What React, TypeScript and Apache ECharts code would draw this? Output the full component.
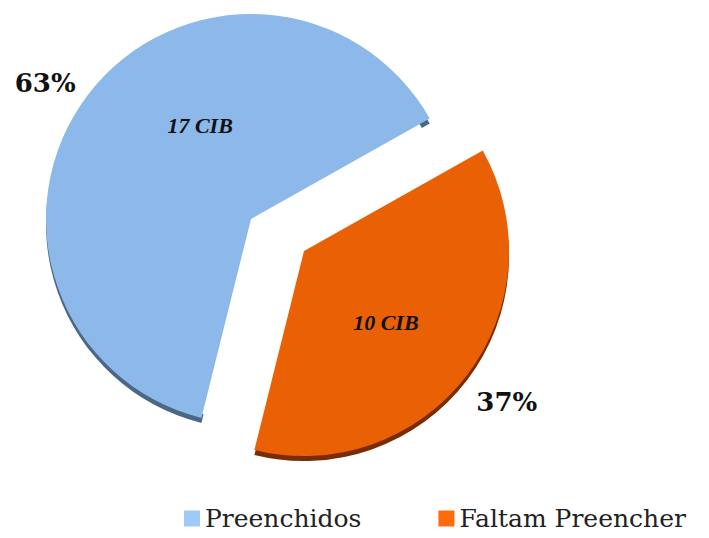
import React, { useEffect, useRef } from "react";
import * as echarts from "echarts";

const categories = ["Preenchidos", "Faltam Preencher"];
const values = [17, 10];
const unitLabel = "CIB";

const sliceColors = ["#8cb9e9", "#e96104"];
const sideColors = ["#4b6786", "#7a2c00"];
const legendColors = ["#9ecbf6", "#ff6a0a"];

// per-slice explosion centres (each slice drawn by its own pie series)
const sliceCenters: [number, number][] = [
  [251, 219],
  [304, 251],
];
const RADIUS = 205;
const DEPTH = 5;
const SIDE_BAND = 9;
const START_ANGLE = 256;

// label nudges relative to the library's default placement
const innerShift = [
  [33, -30],
  [-2, 8],
];
const outerShift = [
  [-1, -12],
  [-2, 17],
];

export default function App() {
  const ref = useRef<HTMLDivElement>(null);
  useEffect(() => {
    if (!ref.current) return;
    const chart = echarts.init(ref.current, null, { renderer: "svg" });
    const total = values.reduce((a, b) => a + b, 0);

    const makeSeries = (vis: number, shadow: boolean) => {
      const c = sliceCenters[vis];
      return {
        type: "pie",
        name: (shadow ? "side-" : "top-") + vis,
        silent: true,
        z: shadow ? 1 : 2,
        center: [c[0], c[1] + (shadow ? DEPTH : 0)],
        radius: shadow ? [RADIUS - SIDE_BAND, RADIUS] : [0, RADIUS],
        startAngle: START_ANGLE,
        clockwise: true,
        avoidLabelOverlap: false,
        emphasis: { disabled: true },
        labelLayout: () => {
          const s = shadow ? outerShift[vis] : innerShift[vis];
          return { dx: s[0], dy: s[1] };
        },
        data: categories.map((name, i) => ({
          name,
          value: values[i],
          itemStyle: {
            color: i === vis ? (shadow ? sideColors[i] : sliceColors[i]) : "rgba(0,0,0,0)",
          },
          label: shadow
            ? {
                show: i === vis,
                position: "outside",
                formatter: () => Math.round((values[i] / total) * 100) + "%",
                fontFamily: "DejaVu Serif",
                fontWeight: "bold",
                fontSize: 26,
                color: "#111",
              }
            : {
                show: i === vis,
                position: "inside",
                formatter: () => values[i] + " " + unitLabel,
                fontFamily: "Liberation Serif",
                fontWeight: "bold",
                fontStyle: "italic",
                fontSize: 22,
                color: "#111",
              },
          labelLine: { show: false, length: 8, length2: 0 },
        })),
      };
    };

    chart.setOption({
      animation: false,
      backgroundColor: "#ffffff",
      legend: {
        left: 179,
        top: 501,
        itemWidth: 16,
        itemHeight: 16,
        itemGap: 77,
        icon: "rect",
        selectedMode: false,
        textStyle: { fontFamily: "DejaVu Serif", fontSize: 25, color: "#222" },
        data: categories.map((name, i) => ({ name, itemStyle: { color: legendColors[i] } })),
      },
      series: [makeSeries(0, true), makeSeries(1, true), makeSeries(0, false), makeSeries(1, false)],
    });
    return () => chart.dispose();
  }, []);
  return (
    <div
      ref={ref}
      style={{ position: "fixed", left: 0, top: 0, width: 709, height: 538 }}
    />
  );
}
